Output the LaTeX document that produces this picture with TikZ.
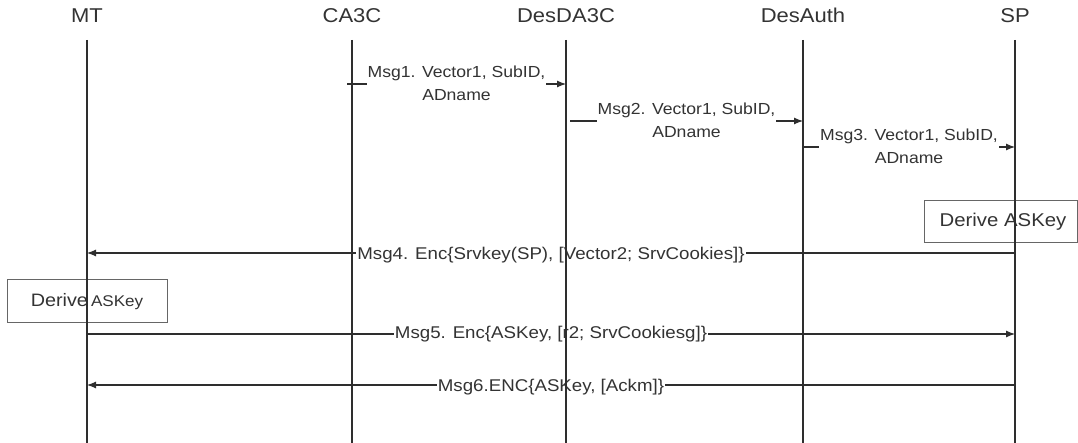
\documentclass[tikz,border=0pt]{standalone}
\usepackage{fontspec}
\setmainfont{Liberation Sans}
\usetikzlibrary{arrows.meta}
\definecolor{ink}{HTML}{2E2E2E}
\definecolor{txt}{HTML}{333333}
\definecolor{boxc}{HTML}{666666}
\newcommand{\hs}[1]{\scalebox{1.1}[1]{#1}}
\begin{document}
\begin{tikzpicture}[x=1pt,y=-1pt,
  head/.style={font=\fontsize{20}{24}\selectfont, text=txt, anchor=base, inner sep=0pt},
  life/.style={draw=ink, line width=1.3pt},
  msg/.style={draw=ink, line width=1.1pt, -{Latex[length=9pt,width=7pt]}},
  lbl/.style={fill=white, text=txt, inner xsep=1pt, inner ysep=1pt, font=\fontsize{17}{20}\selectfont},
  lbltwo/.style={fill=white, text=txt, inner xsep=1pt, inner ysep=0pt, font=\fontsize{16}{23}\selectfont},
  derive/.style={draw=boxc, line width=1pt, text=txt, inner sep=0pt}
]
\useasboundingbox (0,0) rectangle (1078,443);

% headers
\node[head] (hMT) at (87,23) {\hs{MT}};
\node[head] (hCA) at (352,23) {\hs{CA3C}};
\node[head] (hDD) at (566,23) {\hs{DesDA3C}};
\node[head] (hDA) at (803,23) {\hs{DesAuth}};
\node[head] (hSP) at (1015,23) {\hs{SP}};

% lifeline ends
\coordinate (tMT) at (87,40);   \coordinate (bMT) at (87,443);
\coordinate (tCA) at (352,40);  \coordinate (bCA) at (352,443);
\coordinate (tDD) at (566,40);  \coordinate (bDD) at (566,443);
\coordinate (tDA) at (803,40);  \coordinate (bDA) at (803,443);
\coordinate (tSP) at (1015,40); \coordinate (bSP) at (1015,443);

% message end points
\coordinate (m1s) at (347,84);  \coordinate (m1e) at (566,84);
\coordinate (m2s) at (570,121); \coordinate (m2e) at (803,121);
\coordinate (m3s) at (803,147); \coordinate (m3e) at (1015,147);
\coordinate (m4s) at (1015,253); \coordinate (m4e) at (87,253);
\coordinate (m5s) at (87,334);  \coordinate (m5e) at (1015,334);
\coordinate (m6s) at (1015,385); \coordinate (m6e) at (87,385);

% messages
\draw[msg] (m1s) -- node[lbltwo] (l1) {\hs{\begin{tabular}{@{}c@{}}Msg1. Vector1, SubID,\\ADname\end{tabular}}} (m1e);
\draw[msg] (m2s) -- node[lbltwo] (l2) {\hs{\begin{tabular}{@{}c@{}}Msg2. Vector1, SubID,\\ADname\end{tabular}}} (m2e);
\draw[msg] (m3s) -- node[lbltwo] (l3) {\hs{\begin{tabular}{@{}c@{}}Msg3. Vector1, SubID,\\ADname\end{tabular}}} (m3e);
\draw[msg] (m4s) -- node[lbl, yshift=-2pt] (l4) {\hs{Msg4. Enc\{Srvkey(SP), [Vector2; SrvCookies]\}}} (m4e);
\draw[msg] (m5s) -- node[lbl] (l5) {\hs{Msg5. Enc\{ASKey, [r2; SrvCookiesg]\}}} (m5e);
\draw[msg] (m6s) -- node[lbl, yshift=-2pt] (l6) {\hs{Msg6.ENC\{ASKey, [Ackm]\}}} (m6e);

% derive boxes
\node[derive, minimum width=153pt, minimum height=42pt] (dSP) at (1000.5,222)
  {\fontsize{18.5}{22}\selectfont\hspace*{5pt}\hs{Derive ASKey}};
\node[derive, minimum width=160pt, minimum height=43pt] (dMT) at (87,301.5)
  {\hs{{\fontsize{18}{22}\selectfont Derive} {\fontsize{15.5}{19}\selectfont ASKey}}};

% lifelines on top
\draw[life] (tMT) -- (bMT);
\draw[life] (tCA) -- (bCA);
\draw[life] (tDD) -- (bDD);
\draw[life] (tDA) -- (bDA);
\draw[life] (tSP) -- (bSP);
\end{tikzpicture}
\end{document}
